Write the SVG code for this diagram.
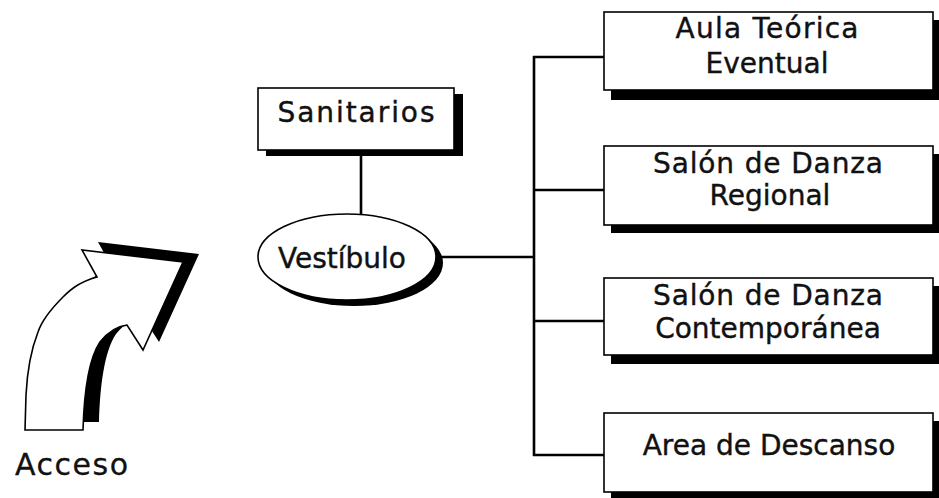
<svg xmlns="http://www.w3.org/2000/svg" width="939" height="498" viewBox="0 0 939 498">
<style>
.box{fill:#fff;stroke:#000;stroke-width:1.6}
.shadow{fill:#000}
.lbl{font-family:"DejaVu Sans",sans-serif;font-size:28px;fill:#111;stroke:#111;stroke-width:0.4;text-anchor:middle}
.con{stroke:#000;stroke-width:2.6;fill:none}
</style>
<defs>
<path id="arrow" d="M25,430 L83,430 C84,395 88,360 100,342 C108,332 118,326 127,325 L143,350 L183,262 L82,250 L97,277 C80,282 72,288 63,297 C50,310 42,320 38,332 C31,350 27,375 26,395 Z"/>
</defs>
<rect width="939" height="498" fill="#fff"/>
<g id="connectors">
<line class="con" x1="361" y1="150" x2="361" y2="214"/>
<line class="con" x1="436" y1="257" x2="534" y2="257"/>
<line class="con" x1="534" y1="56" x2="534" y2="456"/>
<line class="con" x1="533" y1="57" x2="604" y2="57"/>
<line class="con" x1="533" y1="190" x2="604" y2="190"/>
<line class="con" x1="533" y1="321" x2="604" y2="321"/>
<line class="con" x1="533" y1="455" x2="604" y2="455"/>
</g>
<g id="acceso">
<use href="#arrow" transform="translate(16,-8)" fill="#000"/>
<use href="#arrow" fill="#fff" stroke="#000" stroke-width="1.6" stroke-linejoin="miter"/>
<text x="15" y="475" style="font-family:'DejaVu Sans',sans-serif;font-size:30px;fill:#111;stroke:#111;stroke-width:0.3" textLength="113" lengthAdjust="spacing">Acceso</text>
</g>
<g id="sanitarios">
<rect class="shadow" x="266" y="94" width="197" height="62"/>
<rect class="box" x="258" y="88" width="196" height="62"/>
<text class="lbl" x="356" y="122" textLength="157" lengthAdjust="spacing">Sanitarios</text>
</g>
<g id="vestibulo">
<ellipse class="shadow" cx="354" cy="263" rx="89" ry="43"/>
<ellipse class="box" cx="347" cy="257" rx="89" ry="43"/>
<text class="lbl" x="342" y="268">Vestíbulo</text>
</g>
<g id="aula">
<rect class="shadow" x="611" y="20" width="329" height="80"/>
<rect class="box" x="604" y="12" width="329" height="78"/>
<text class="lbl" x="767" y="38" textLength="183" lengthAdjust="spacing">Aula Teórica</text>
<text class="lbl" x="767" y="73">Eventual</text>
</g>
<g id="regional">
<rect class="shadow" x="611" y="154" width="329" height="79"/>
<rect class="box" x="604" y="146" width="329" height="79"/>
<text class="lbl" x="768" y="173" textLength="230" lengthAdjust="spacing">Salón de Danza</text>
<text class="lbl" x="770" y="205">Regional</text>
</g>
<g id="contemporanea">
<rect class="shadow" x="611" y="286" width="329" height="78"/>
<rect class="box" x="604" y="278" width="329" height="77"/>
<text class="lbl" x="768" y="305" textLength="230" lengthAdjust="spacing">Salón de Danza</text>
<text class="lbl" x="768" y="338">Contemporánea</text>
</g>
<g id="descanso">
<rect class="shadow" x="611" y="421" width="329" height="79"/>
<rect class="box" x="604" y="413" width="329" height="79"/>
<text class="lbl" x="769" y="455">Area de Descanso</text>
</g>
</svg>
